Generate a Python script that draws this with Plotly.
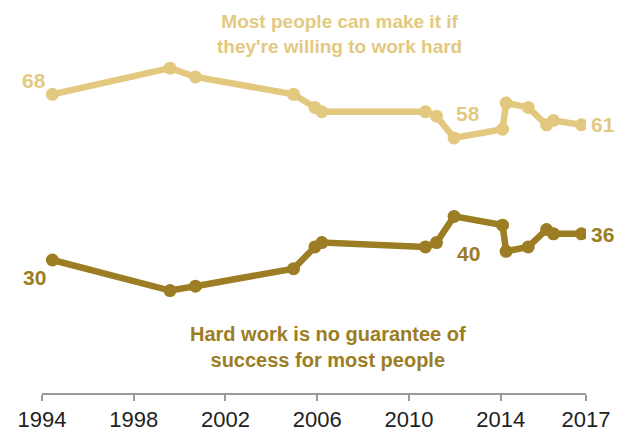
import plotly.graph_objects as go

dates = ["1994-06-15", "1999-08-01", "2000-09-10", "2004-12-20", "2005-11-25",
         "2006-03-15", "2010-09-20", "2011-03-15", "2011-12-20", "2014-01-30",
         "2014-03-28", "2015-03-15", "2016-01-01", "2016-04-20", "2017-07-10"]
work_hard = [68, 74, 72, 68, 65, 64, 64, 63, 58, 60, 66, 65, 61, 62, 61]
no_guarantee = [30, 23, 24, 28, 33, 34, 33, 34, 40, 38, 32, 33, 37, 36, 36]

tick_vals = ["1994-01-01", "1998-01-01", "2002-01-01", "2006-01-01",
             "2010-01-01", "2014-01-01", "2017-09-20"]
tick_text = ["1994", "1998", "2002", "2006", "2010", "2014", "2017"]

light = "#E3C97F"
dark = "#9C7D23"
font_fam = "Liberation Sans, Arial, sans-serif"

fig = go.Figure()
fig.add_trace(go.Scatter(x=dates, y=work_hard, mode="lines+markers",
                         line=dict(color=light, width=6.5),
                         marker=dict(color=light, size=13), hoverinfo="x+y"))
fig.add_trace(go.Scatter(x=dates, y=no_guarantee, mode="lines+markers",
                         line=dict(color=dark, width=6.5),
                         marker=dict(color=dark, size=13), hoverinfo="x+y"))

ann = []
def lab(i, series, color, xanchor, xshift, yshift):
    ann.append(dict(x=dates[i], y=series[i], xref="x", yref="y",
                    text=f"<b>{series[i]}</b>", showarrow=False,
                    xanchor=xanchor, yanchor="middle", xshift=xshift, yshift=yshift,
                    font=dict(family=font_fam, size=21, color=color)))

lab(0, work_hard, light, "right", -4, 14)
lab(8, work_hard, light, "center", 14, 24)
lab(14, work_hard, light, "left", 8, 0)
lab(0, no_guarantee, dark, "right", -4, -17)
lab(8, no_guarantee, dark, "center", 14, -37)
lab(14, no_guarantee, dark, "left", 8, -1)

ann.append(dict(x=0.547, y=1.0, xref="paper", yref="paper", yshift=-1,
                text="<b>Most people can make it if<br>they're willing to work hard</b>",
                showarrow=False, xanchor="center", yanchor="top",
                font=dict(family=font_fam, size=19, color=light)))
ann.append(dict(x=0.525, y=0, xref="paper", yref="paper", yshift=20,
                text="<b>Hard work is no guarantee of<br>success for most people</b>",
                showarrow=False, xanchor="center", yanchor="bottom",
                font=dict(family=font_fam, size=20, color=dark)))

fig.update_layout(
    width=620, height=426,
    margin=dict(l=34, r=42, t=0, b=41),
    paper_bgcolor="white", plot_bgcolor="white",
    showlegend=False,
    font=dict(family=font_fam),
    xaxis=dict(type="date", range=["1994-01-01", "2017-09-20"],
               tickvals=tick_vals, ticktext=tick_text,
               showgrid=False, zeroline=False,
               showline=True, linecolor="#9a9a9a", linewidth=1.5,
               ticks="outside", ticklen=6, tickcolor="#9a9a9a", tickwidth=1.5,
               tickfont=dict(family=font_fam, size=22, color="#222222")),
    yaxis=dict(range=[-0.5, 87.8], visible=False, showgrid=False, zeroline=False),
    annotations=ann,
)

fig.write_html("out.html")
